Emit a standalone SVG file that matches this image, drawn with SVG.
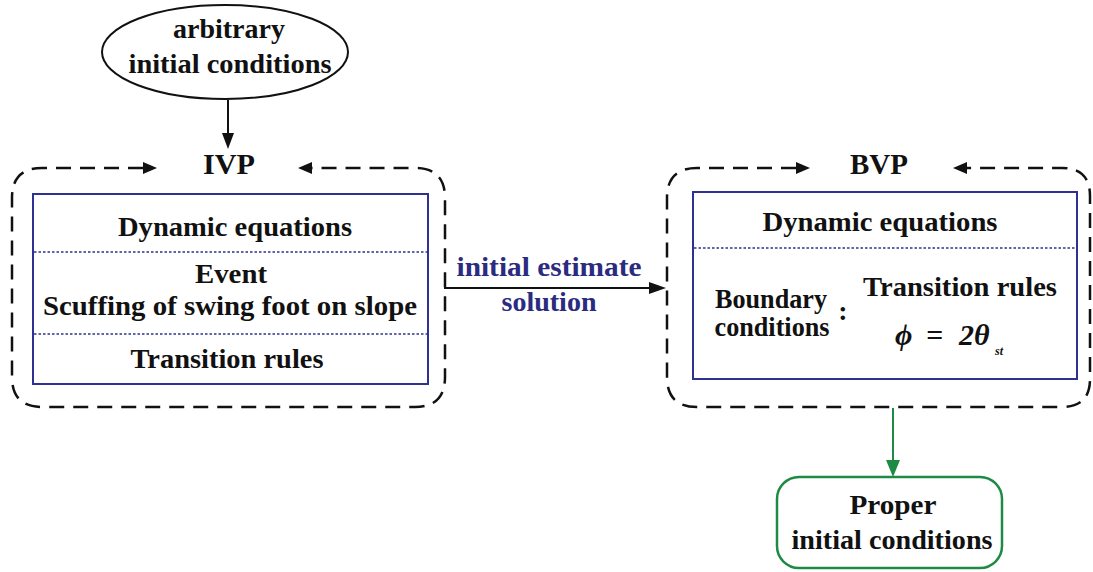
<svg xmlns="http://www.w3.org/2000/svg" width="1093" height="572" viewBox="0 0 1093 572">
<style>
text{font-family:"Liberation Serif","Times New Roman",serif;font-weight:bold;font-size:28px;fill:#111;text-anchor:middle}
.blue{fill:#2b2b7f}
.big{font-size:29px}
.math{font-style:italic;font-size:30px;text-anchor:start}
.sub{font-style:italic;font-size:12px;text-anchor:start}
.frame{fill:none;stroke:#111;stroke-width:2.5;stroke-dasharray:15 9}
.inner{fill:#fff;stroke:#2e3192;stroke-width:2}
.dot{stroke:#2e3192;stroke-width:1.5;stroke-dasharray:2.5 2}
</style>
<g id="start">
<ellipse cx="225" cy="52" rx="123" ry="47" fill="#fff" stroke="#111" stroke-width="2"/>
<text x="229" y="38" textLength="112" lengthAdjust="spacingAndGlyphs">arbitrary</text>
<text x="230" y="73" textLength="203" lengthAdjust="spacingAndGlyphs">initial conditions</text>
</g>
<g id="ivp">
<path class="frame" d="M143,168 L42,168 Q12,168 12,198 L12,377 Q12,407 42,407 L415,407 Q445,407 445,377 L445,198 Q445,168 415,168 L312,168"/>
<polygon points="157,168 143,162 143,174" fill="#111"/>
<polygon points="298,168 312,162 312,174" fill="#111"/>
<text class="big" x="229" y="174" textLength="52" lengthAdjust="spacingAndGlyphs">IVP</text>
<rect class="inner" x="33" y="194" width="395" height="190"/>
<line class="dot" x1="34" y1="252" x2="427" y2="252"/>
<line class="dot" x1="34" y1="334" x2="427" y2="334"/>
<text x="235" y="236" textLength="234" lengthAdjust="spacingAndGlyphs">Dynamic equations</text>
<text x="231" y="283" textLength="72" lengthAdjust="spacingAndGlyphs">Event</text>
<text x="230" y="315" textLength="374" lengthAdjust="spacingAndGlyphs">Scuffing of swing foot on slope</text>
<text x="227" y="368" textLength="193" lengthAdjust="spacingAndGlyphs">Transition rules</text>
</g>
<g id="bvp">
<path class="frame" d="M796,168 L697,168 Q667,168 667,198 L667,377 Q667,407 697,407 L1062,407 Q1090,407 1090,379 L1090,196 Q1090,168 1062,168 L967,168"/>
<polygon points="810,168 796,162 796,174" fill="#111"/>
<polygon points="953,168 967,162 967,174" fill="#111"/>
<text class="big" x="879" y="174" textLength="58" lengthAdjust="spacingAndGlyphs">BVP</text>
<rect class="inner" x="693" y="192" width="384" height="187"/>
<line class="dot" x1="694" y1="248" x2="1076" y2="248"/>
<text x="880" y="231" textLength="235" lengthAdjust="spacingAndGlyphs">Dynamic equations</text>
<text x="771" y="308" textLength="112" lengthAdjust="spacingAndGlyphs">Boundary</text>
<text x="772" y="336" textLength="115" lengthAdjust="spacingAndGlyphs">conditions</text>
<text x="843" y="320">:</text>
<text x="960" y="296" textLength="194" lengthAdjust="spacingAndGlyphs">Transition rules</text>
<text class="math" x="895" y="345">ϕ</text>
<text class="math" x="926" y="345">=</text>
<text class="math" x="959" y="345">2θ</text>
<text class="sub" x="995" y="355">st</text>
</g>
<g id="result">
<rect x="777" y="477" width="225" height="91" rx="22" fill="#fff" stroke="#1e8a44" stroke-width="2.5"/>
<text x="893" y="514" textLength="87" lengthAdjust="spacingAndGlyphs">Proper</text>
<text x="892" y="549" textLength="201" lengthAdjust="spacingAndGlyphs">initial conditions</text>
</g>
<g id="connectors">
<line x1="228" y1="100" x2="228" y2="134" stroke="#111" stroke-width="2"/>
<polygon points="228,149 222,133 234,133" fill="#111"/>
<line x1="444" y1="288" x2="650" y2="288" stroke="#111" stroke-width="2.2"/>
<polygon points="666,288 649,282 649,294" fill="#111"/>
<text class="blue" x="549" y="276" textLength="185" lengthAdjust="spacingAndGlyphs">initial  estimate</text>
<text class="blue" x="549" y="311" textLength="95" lengthAdjust="spacingAndGlyphs">solution</text>
<line x1="893" y1="408" x2="893" y2="461" stroke="#1e8a44" stroke-width="2"/>
<polygon points="893,477 886,460 900,460" fill="#1e8a44"/>
</g>
</svg>
